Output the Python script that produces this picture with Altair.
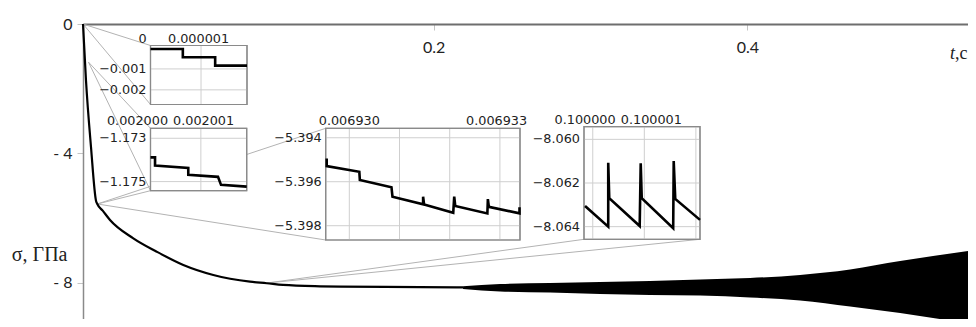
import altair as alt
import pandas as pd
import numpy as np

# ---------------- values ----------------
# main curve sigma(t), GPa
main_t = [0, 0.00164, 0.00436, 0.00709, 0.0078, 0.01074, 0.01472, 0.02743, 0.04019,
          0.05469, 0.07105, 0.09106, 0.1002, 0.1099, 0.1321, 0.1441, 0.1919, 0.2187]
main_s = [0, -1.753, -3.802, -5.462, -5.564, -5.771, -6.059, -6.625, -7.039,
          -7.45, -7.759, -7.966, -8.015, -8.068, -8.11, -8.12, -8.135, -8.145]

# envelope of the oscillation at late times
band_t = [0.2187, 0.2423, 0.2742, 0.3061, 0.3380, 0.3699, 0.4017, 0.4336, 0.4655, 0.4974, 0.5184, 0.5407]
band_hi = [-8.11, -8.037, -8.006, -7.975, -7.944, -7.898, -7.852, -7.759, -7.589, -7.326, -7.172, -7.017]
band_lo = [-8.19, -8.269, -8.300, -8.346, -8.377, -8.393, -8.454, -8.547, -8.733, -8.934, -9.088, -9.258]

# inset 1 (t from 0)
in1_t = [0, 0.64e-6, 0.64e-6, 1.28e-6, 1.28e-6, 1.91e-6]
in1_s = [-0.00005, -0.00005, -0.00044, -0.00044, -0.00084, -0.00084]
# inset 2 (t near 0.002)
in2_t = [0.0020000, 0.00200009, 0.00200009, 0.00200075, 0.00200075, 0.00200134, 0.0020014, 0.00200191]
in2_s = [-1.17388, -1.17388, -1.17426, -1.17437, -1.17469, -1.17478, -1.17515, -1.17523]
# inset 3 (t near 0.00693)
in3_t = [0.00692955, 0.00692955, 0.0069302, 0.00693021, 0.00693084, 0.00693086, 0.00693147, 0.00693147,
         0.00693149, 0.00693207, 0.00693209, 0.00693211, 0.00693275, 0.00693276, 0.00693278, 0.00693339,
         0.00693339]
in3_s = [-5.39494, -5.39529, -5.39555, -5.39592, -5.39625, -5.39668, -5.39703, -5.39668,
         -5.39704, -5.39741, -5.39668, -5.3971, -5.39744, -5.39679, -5.39714, -5.39744,
         -5.39716]
# inset 4 (t near 0.1)
in4_t = [0.09999985, 0.1000003, 0.1000003, 0.10000032, 0.10000091, 0.10000093, 0.10000095,
         0.10000156, 0.10000157, 0.1000016, 0.10000208]
in4_s = [-8.06305, -8.064, -8.06107, -8.0627, -8.06397, -8.0611, -8.0627,
         -8.06407, -8.06099, -8.06273, -8.06369]

# connector source points on the main curve
src_t = [0, 0, 0.003, 0.003, 0.0078, 0.0078, 0.0078, 0.1, 0.1]
src_s = [0, 0, -1.18, -1.18, -5.564, -5.564, -5.564, -8.01, -8.01]

# tick values / labels
main_xticks = [0.2, 0.4]
main_yticks = [0, -4, -8]

# ---------------- layout ----------------
OX, OY = 83, 24            # plot origin on the page
W, H = 885, 295
Y_MIN = -9.12
X_DOMAIN = [0, 0.1, 0.2, 0.4, 0.5407]
X_RANGE = [0, 183.4, 350.7, 664.4, 885]

GRID = "#cfcfcf"
BORDER = "#8a8a8a"
CONN = "#b3b3b3"
TXT = "#222222"
IFONT = "DejaVu Sans"
IFS = 12.8

def to_main(px, py):
    return float(np.interp(px - OX, X_RANGE, X_DOMAIN)), (py - OY) / H * Y_MIN

# inset boxes on the page: x0, x1, y0(top), y1(bottom)
boxes = {
    1: (150.5, 247, 45.5, 104.5),
    2: (150.5, 246.7, 128.3, 190.7),
    3: (325.7, 520, 128.3, 240),
    4: (584, 700, 126.7, 239.3),
}
corner_px = [
    (boxes[1][0], boxes[1][2]), (boxes[1][0], boxes[1][3]),
    (boxes[2][0], boxes[2][2]), (boxes[2][0], boxes[2][3]),
    (boxes[2][0], boxes[2][3]), (boxes[3][0], boxes[3][2]), (boxes[3][0], boxes[3][3]),
    (boxes[4][0], boxes[4][3]), (boxes[4][1], boxes[4][3]),
]
corners = [to_main(px, py) for px, py in corner_px]
conn_df = pd.DataFrame({
    "t1": src_t, "s1": src_s,
    "t2": [c[0] for c in corners], "s2": [c[1] for c in corners],
})

# ---------------- main chart ----------------
xs_main = alt.Scale(domain=X_DOMAIN, range=X_RANGE, zero=False, nice=False)
ys_main = alt.Scale(domain=[Y_MIN, 0], zero=False, nice=False)

x_axis = alt.Axis(values=main_xticks, orient="bottom", offset=-H, format=".1f",
                  labelPadding=9, tickSize=6, tickColor="#c4c4c4", tickWidth=1,
                  domainColor="#6e6e6e", domainWidth=2, labelFont="Lato",
                  labelFontSize=16, labelColor=TXT, title=None, grid=False)
y_axis = alt.Axis(values=main_yticks,
                  labelExpr="datum.value == 0 ? '0' : '- ' + abs(datum.value)",
                  tickSize=6, tickColor="#c4c4c4", domainColor="#8a8a8a", domainWidth=1.5,
                  labelFont="Lato", labelFontSize=16, labelColor=TXT, labelPadding=5,
                  title="σ, ГПа", titleAngle=0, titleAlign="right", titleBaseline="alphabetic",
                  titleX=-16, titleY=236, titleFont="Liberation Serif", titleFontSize=20,
                  titleFontWeight="normal", titleColor=TXT, grid=False)

def MX(f):
    return alt.X(f, type="quantitative", scale=xs_main, axis=x_axis)

def MY(f):
    return alt.Y(f, type="quantitative", scale=ys_main, axis=y_axis)

conn = alt.Chart(conn_df).mark_rule(color=CONN, strokeWidth=1).encode(
    x=MX("t1"), y=MY("s1"), x2="t2:Q", y2="s2:Q")

band = alt.Chart(pd.DataFrame({"t": band_t, "hi": band_hi, "lo": band_lo})).mark_area(
    color="black", clip=True, interpolate="monotone").encode(x=MX("t"), y=MY("hi"), y2="lo:Q")

line = alt.Chart(pd.DataFrame({"t": main_t, "s": main_s})).mark_line(
    color="black", strokeWidth=2.2, interpolate="monotone").encode(x=MX("t"), y=MY("s"))

one = pd.DataFrame({"a": [0]})
t_lab = alt.Chart(one).mark_text(text="t", font="Liberation Serif", fontSize=18,
                                 fontStyle="italic", align="right", color=TXT).encode(
    x=alt.value(872), y=alt.value(30))
c_lab = alt.Chart(one).mark_text(text=",c", font="Liberation Serif", fontSize=18,
                                 align="left", color=TXT).encode(
    x=alt.value(872), y=alt.value(30))

main = alt.layer(conn, band, line, t_lab, c_lab)


# ---------------- insets ----------------
def inset(box, xdom, ydom, lt, ls, xgrid, ygrid, xlabs, ylabs):
    x0, x1, y0, y1 = box
    xs = alt.Scale(domain=xdom, range=[x0 - OX, x1 - OX], zero=False, nice=False)
    ys = alt.Scale(domain=ydom, range=[y1 - OY, y0 - OY], zero=False, nice=False)
    XD = lambda v: alt.XDatum(v, type="quantitative", scale=xs, axis=None)
    YD = lambda v: alt.YDatum(v, type="quantitative", scale=ys, axis=None)
    XF = lambda f: alt.X(f, type="quantitative", scale=xs, axis=None)
    YF = lambda f: alt.Y(f, type="quantitative", scale=ys, axis=None)

    frame = alt.Chart(one).mark_rect(fill="white", stroke=BORDER, strokeWidth=1.2).encode(
        x=XD(xdom[0]), x2=alt.X2Datum(xdom[1]), y=YD(ydom[0]), y2=alt.Y2Datum(ydom[1]))
    vg = alt.Chart(pd.DataFrame({"v": xgrid})).mark_rule(color=GRID, strokeWidth=1).encode(
        x=XF("v"), y=YD(ydom[0]), y2=alt.Y2Datum(ydom[1]))
    hg = alt.Chart(pd.DataFrame({"v": ygrid})).mark_rule(color=GRID, strokeWidth=1).encode(
        y=YF("v"), x=XD(xdom[0]), x2=alt.X2Datum(xdom[1]))
    border2 = alt.Chart(one).mark_rect(fill=None, stroke=BORDER, strokeWidth=1.2).encode(
        x=XD(xdom[0]), x2=alt.X2Datum(xdom[1]), y=YD(ydom[0]), y2=alt.Y2Datum(ydom[1]))
    ln = alt.Chart(pd.DataFrame({"t": lt, "s": ls, "i": list(range(len(lt)))})).mark_line(
        color="black", strokeWidth=2.6, strokeJoin="miter").encode(
        x=XF("t"), y=YF("s"), order="i:Q")
    layers = [frame, vg, hg, border2, ln]
    for v, lab, dx in xlabs:
        layers.append(alt.Chart(pd.DataFrame({"v": [v], "lab": [lab]})).mark_text(
            font=IFONT, fontSize=IFS, color=TXT, align="center", baseline="alphabetic",
            dx=dx, dy=-3).encode(x=XF("v"), y=YD(ydom[1]), text="lab:N"))
    layers.append(alt.Chart(pd.DataFrame({"v": [v for v, _ in ylabs],
                                          "lab": [l for _, l in ylabs]})).mark_text(
        font=IFONT, fontSize=IFS, color=TXT, align="right", baseline="middle", dx=-4).encode(
        x=XD(xdom[0]), y=YF("v"), text="lab:N"))
    return alt.layer(*layers)


i1 = inset(boxes[1], [0, 1.91e-6], [-0.0027, 0.00012], in1_t, in1_s,
           [1e-6], [-0.001, -0.002],
           [(0, "0", -8), (1e-6, "0.000001", -2.5)],
           [(-0.001, "−0.001"), (-0.002, "−0.002")])
i2 = inset(boxes[2], [0.002, 0.00200191], [-1.17542, -1.17254], in2_t, in2_s,
           [0.002001], [-1.173, -1.175],
           [(0.002, "0.002000", -13), (0.002001, "0.002001", 2.7)],
           [(-1.173, "−1.173"), (-1.175, "−1.175")])
i3 = inset(boxes[3], [0.00692953, 0.0069334], [-5.39865, -5.39357], in3_t, in3_s,
           [0.00693, 0.006931, 0.006932, 0.006933], [-5.394, -5.396, -5.398],
           [(0.00693, "0.006930", 0), (0.006933, "0.006933", -3.3)],
           [(-5.394, "−5.394"), (-5.396, "−5.396"), (-5.398, "−5.398")])
i4 = inset(boxes[4], [0.09999983, 0.10000208], [-8.06458, -8.05942], in4_t, in4_s,
           [0.1, 0.100001, 0.100002], [-8.06, -8.062, -8.064],
           [(0.1, "0.100000", -7.7), (0.100001, "0.100001", 7)],
           [(-8.06, "−8.060"), (-8.062, "−8.062"), (-8.064, "−8.064")])

chart = alt.layer(main, i1, i2, i3, i4).resolve_scale(
    x="independent", y="independent"
).properties(
    width=W, height=H, autosize="none",
    padding={"left": OX - 8, "top": OY - 8, "right": 0, "bottom": 0},
    background="white",
).configure_view(stroke=None)

chart.save("out.html", embed_options={"renderer": "svg", "actions": False})
